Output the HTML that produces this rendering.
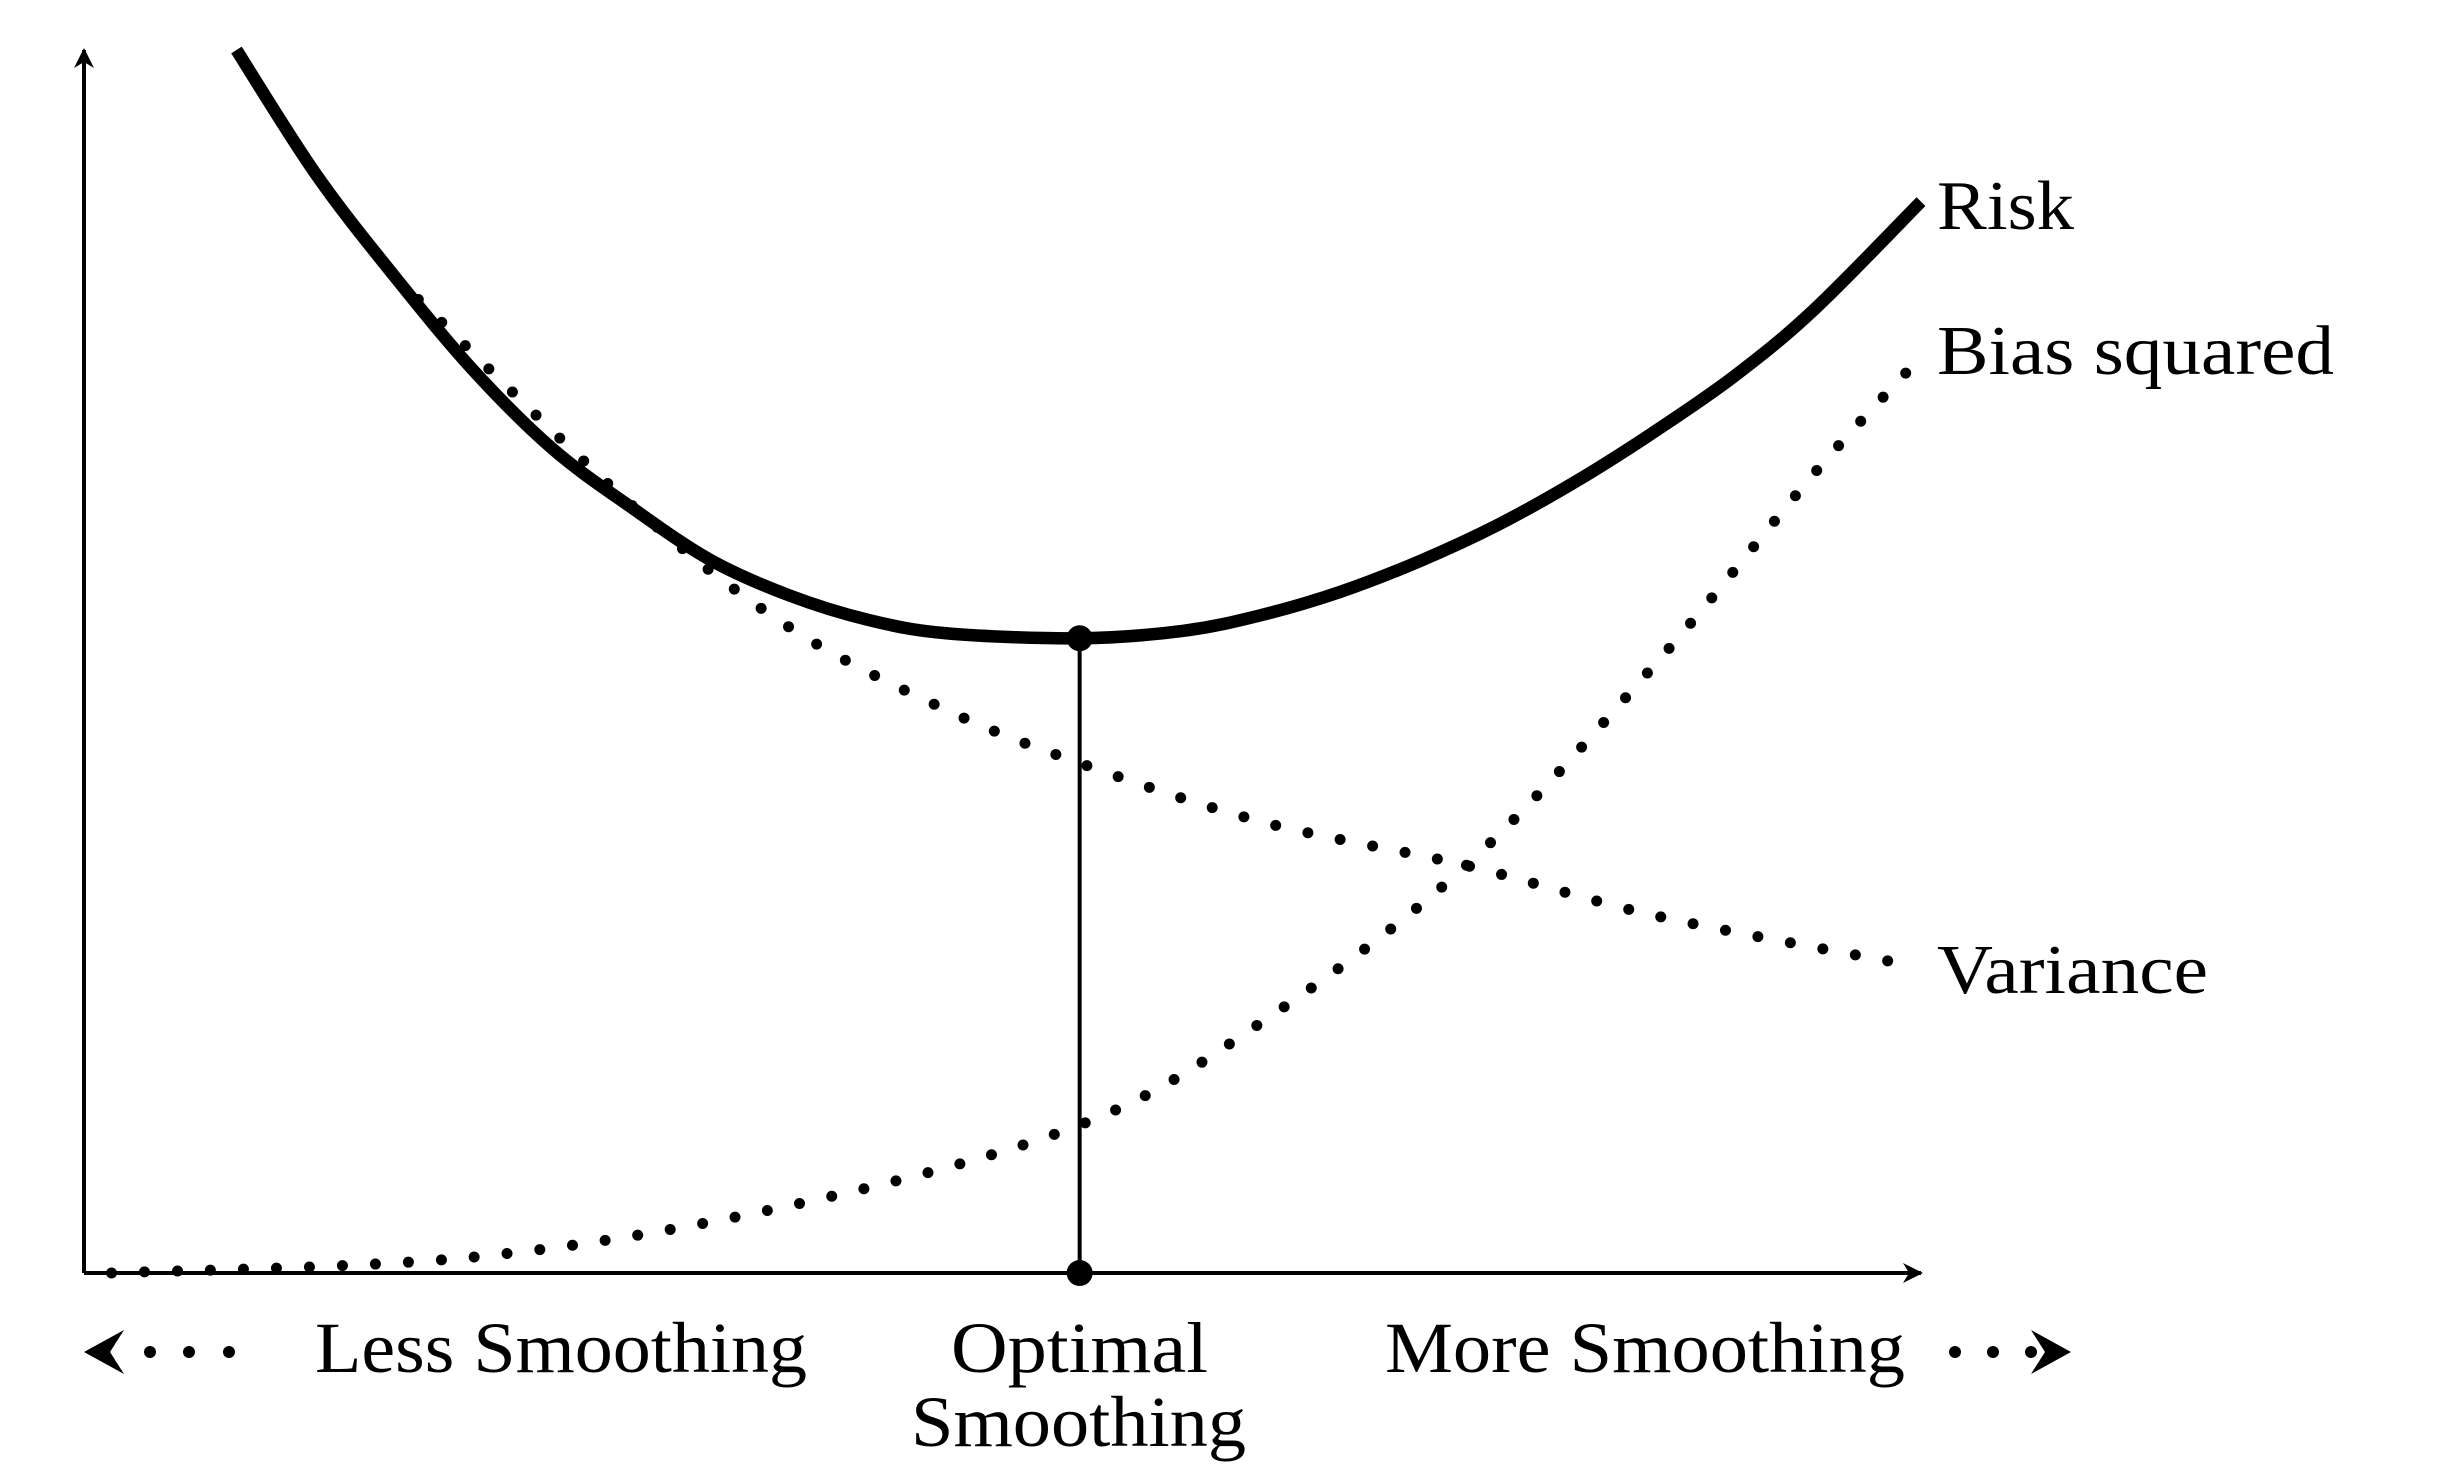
<!DOCTYPE html>
<html><head><meta charset="utf-8"><style>
html,body{margin:0;padding:0;background:#fff;}
svg{display:block;}
text{font-family:"Liberation Serif",serif;fill:#000;}
</style></head><body>
<svg id="chart" width="2460" height="1482" viewBox="0 0 2460 1482" xmlns="http://www.w3.org/2000/svg">
<defs>
<marker id="ah" viewBox="0 0 10 10" refX="9" refY="5" markerWidth="5" markerHeight="5" orient="auto-start-reverse"><path d="M0,0 L10,5 L0,10 L3,5 z" fill="#000"/></marker>
</defs>
<g id="plot"></g>
<text x="1937" y="229" font-size="70" textLength="137" lengthAdjust="spacingAndGlyphs">Risk</text>
<text x="1937" y="374" font-size="70" textLength="397" lengthAdjust="spacingAndGlyphs">Bias squared</text>
<text x="1937" y="993" font-size="70" textLength="271" lengthAdjust="spacingAndGlyphs">Variance</text>
<text x="315" y="1372" font-size="72" textLength="492" lengthAdjust="spacingAndGlyphs">Less Smoothing</text>
<text x="951" y="1372" font-size="72" textLength="257" lengthAdjust="spacingAndGlyphs">Optimal</text>
<text x="911" y="1446" font-size="72" textLength="335" lengthAdjust="spacingAndGlyphs">Smoothing</text>
<text x="1385" y="1372" font-size="72" textLength="520" lengthAdjust="spacingAndGlyphs">More Smoothing</text>
<g>
<path d="M84,1352 L124,1330 L110,1352 L124,1374 z" fill="#000"/>
<circle cx="150" cy="1352" r="6"/><circle cx="189" cy="1352" r="6"/><circle cx="229" cy="1352" r="6"/>
</g>
<g>
<circle cx="1955" cy="1352" r="6"/><circle cx="1993" cy="1352" r="6"/><circle cx="2031" cy="1352" r="6"/>
<path d="M2071,1352 L2031,1330 L2045,1352 L2031,1374 z" fill="#000"/>
</g>
</svg>
<script>
// smoothing level (0-100) and curve values (0-100)
const biasX = [1.5, 21.2, 38.4, 54.2, 64.1, 75.3, 85.6, 94.2, 99.3];
const biasY = [0, 1.3, 5.5, 12.1, 20.5, 33.4, 49.9, 65.4, 73.8];
const varX = [18.2, 29.8, 38.4, 47.0, 54.2, 64.1, 75.3, 85.6, 99.3];
const varY = [79.6, 62.8, 52.8, 46.0, 41.7, 36.9, 33.3, 29.2, 25.2];
const riskX = [8.3, 12.6, 16.9, 21.2, 25.5, 29.8, 34.1, 38.4, 42.7, 47.0, 54.2, 59.8, 64.1, 68.4, 72.7, 77.0, 81.3, 85.6, 89.9, 94.2, 100];
const riskY = [100, 89.9, 81.5, 73.8, 67.4, 62.6, 58.3, 55.4, 53.4, 52.3, 51.9, 52.5, 53.8, 55.7, 58.2, 61.2, 64.8, 68.9, 73.4, 78.8, 87.6];
const optimalX = 54.2;
const optimalY = 51.9;

const X0 = 84, X1 = 1921, Y0 = 1273, Y1 = 50;
function sx(v){ return X0 + v/100*(X1-X0); }
function sy(v){ return Y0 - v/100*(Y0-Y1); }
const NS = "http://www.w3.org/2000/svg";
const g = document.getElementById('plot');

function pathFrom(xs, ys){
  const p = xs.map((x,i)=>[sx(x), sy(ys[i])]);
  let d = `M${p[0][0]},${p[0][1]}`;
  for(let i=0;i<p.length-1;i++){
    const a=p[Math.max(0,i-1)], b=p[i], c=p[i+1], e=p[Math.min(p.length-1,i+2)];
    const c1=[b[0]+(c[0]-a[0])/6, b[1]+(c[1]-a[1])/6];
    const c2=[c[0]-(e[0]-b[0])/6, c[1]-(e[1]-b[1])/6];
    d += ` C${c1[0]},${c1[1]} ${c2[0]},${c2[1]} ${c[0]},${c[1]}`;
  }
  return d;
}
function mk(tag, attrs){
  const el = document.createElementNS(NS, tag);
  for (const k in attrs) el.setAttribute(k, attrs[k]);
  g.appendChild(el);
  return el;
}
let yAxis = mk('line', {x1:X0, y1:Y0, x2:X0, y2:Y1, stroke:'#000', 'stroke-width':4, 'marker-end':'url(#ah)'});


let xAxis = mk('line', {x1:X0, y1:Y0, x2:X1, y2:Y0, stroke:'#000', 'stroke-width':4, 'marker-end':'url(#ah)'});



let bias = mk('path', {d:pathFrom(biasX, biasY), fill:'none', stroke:'#000', 'stroke-width':11, 'stroke-linecap':'round', 'stroke-dasharray':'0 33'});


let variance = mk('path', {d:pathFrom(varX, varY), fill:'none', stroke:'#000', 'stroke-width':11, 'stroke-linecap':'round', 'stroke-dasharray':'0 33'});


let risk = mk('path', {d:pathFrom(riskX, riskY), fill:'none', stroke:'#000', 'stroke-width':12.5});



let vline = mk('line', {x1:sx(optimalX), y1:sy(optimalY), x2:sx(optimalX), y2:Y0, stroke:'#000', 'stroke-width':4});


let topDot = mk('circle', {cx:sx(optimalX), cy:sy(optimalY), r:13, fill:'#000'});


let botDot = mk('circle', {cx:sx(optimalX), cy:Y0, r:13, fill:'#000'});


</script>
</body></html>
